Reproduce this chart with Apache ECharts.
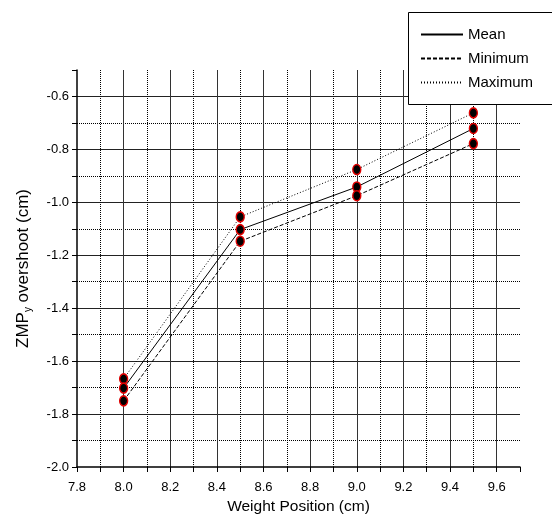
<!DOCTYPE html>
<html>
<head>
<meta charset="utf-8">
<script src="https://cdn.jsdelivr.net/npm/echarts@6/dist/echarts.min.js"></script>
<style>
  html, body { margin: 0; padding: 0; background: #fff; overflow: hidden; }
  #chart { width: 552px; height: 531px; }
</style>
</head>
<body>
<div id="chart"></div>
<script>
// weight positions (cm) and ZMP_y overshoot readings (cm)
var xPos = [8.0, 8.5, 9.0, 9.5];
var meanVals = [-1.702, -1.103, -0.942, -0.721];
var minVals = [-1.750, -1.147, -0.975, -0.778];
var maxVals = [-1.667, -1.055, -0.876, -0.662];
var seriesNames = ['Mean', 'Minimum', 'Maximum'];

var FONT = 'Liberation Sans, Arial, sans-serif';

function pairs(vals) {
    var out = [];
    for (var i = 0; i < xPos.length; i++) {
        out.push([xPos[i], vals[i]]);
    }
    return out;
}

// every reading gets a marker
var dots = [].concat(pairs(maxVals), pairs(meanVals), pairs(minVals));

// only every other tenth gets a label
function evenLabel(v) {
    var k = Math.round(v * 10);
    return k % 2 === 0 ? (k / 10).toFixed(1) : '';
}

var myChart = echarts.init(document.getElementById('chart'));

var frame = { stroke: '#000', lineWidth: 1 };

var option = {
    backgroundColor: '#fff',
    animation: false,
    grid: { left: 77, right: 32, top: 70, bottom: 64 },
    // legend frame is open on the right (runs off the page)
    graphic: [
        { type: 'rect', z: 10, shape: { x: 409, y: 13, width: 143, height: 91 }, style: { fill: '#fff' } },
        { type: 'line', z: 11, shape: { x1: 408.5, y1: 12.5, x2: 552, y2: 12.5 }, style: frame },
        { type: 'line', z: 11, shape: { x1: 408.5, y1: 104.5, x2: 552, y2: 104.5 }, style: frame },
        { type: 'line', z: 11, shape: { x1: 408.5, y1: 12.5, x2: 408.5, y2: 104.5 }, style: frame }
    ],
    legend: {
        orient: 'vertical',
        left: 408,
        top: 12,
        z: 20,
        padding: [15, 10, 14, 12],
        borderWidth: 0,
        backgroundColor: 'transparent',
        itemWidth: 42,
        itemHeight: 14,
        itemGap: 9,
        itemStyle: { opacity: 0 },
        data: seriesNames,
        textStyle: { fontFamily: FONT, fontSize: 15, color: '#000' }
    },
    xAxis: [{
        type: 'value',
        min: 7.8,
        max: 9.7,
        interval: 0.1,
        name: 'Weight Position (cm)',
        nameLocation: 'middle',
        nameGap: 27,
        nameTextStyle: { fontFamily: FONT, fontSize: 15.5, color: '#000' },
        axisLine: { onZero: false, lineStyle: { color: '#000', width: 1.5 } },
        axisTick: { show: true, length: 5, lineStyle: { color: '#000' } },
        axisLabel: {
            fontFamily: FONT, fontSize: 13, color: '#000', margin: 14,
            formatter: evenLabel
        },
        splitLine: {
            show: true, showMinLine: false, showMaxLine: false,
            lineStyle: { color: '#000', type: 'dotted', width: 1 }
        }
    }, {
        type: 'value',
        position: 'top',
        min: 7.8,
        max: 9.7,
        interval: 0.2,
        axisLine: { show: false },
        axisTick: { show: false },
        axisLabel: { show: false },
        splitLine: {
            show: true, showMinLine: false, showMaxLine: false,
            lineStyle: { color: '#333', width: 1 }
        }
    }],
    yAxis: [{
        type: 'value',
        min: -2.0,
        max: -0.5,
        interval: 0.1,
        name: '{a|ZMP}{s|y}{a| overshoot (cm)}',
        nameLocation: 'middle',
        nameRotate: 90,
        nameGap: 44,
        nameTextStyle: {
            rich: {
                a: { fontFamily: FONT, fontSize: 17, color: '#000' },
                s: { fontFamily: FONT, fontSize: 10, color: '#000', verticalAlign: 'bottom', padding: [10, 0, 0, 0] }
            }
        },
        axisLine: { onZero: false, lineStyle: { color: '#000', width: 1.5 } },
        axisTick: { show: true, length: 5, lineStyle: { color: '#000' } },
        axisLabel: {
            fontFamily: FONT, fontSize: 13, color: '#000', margin: 8,
            formatter: evenLabel
        },
        splitLine: {
            show: true, showMinLine: false, showMaxLine: false,
            lineStyle: { color: '#000', type: 'dotted', width: 1 }
        }
    }, {
        type: 'value',
        position: 'right',
        min: -2.0,
        max: -0.5,
        interval: 0.2,
        axisLine: { show: false },
        axisTick: { show: false },
        axisLabel: { show: false },
        splitLine: {
            show: true, showMinLine: false, showMaxLine: false,
            lineStyle: { color: '#222', width: 1 }
        }
    }],
    series: [
        {
            name: 'Mean',
            type: 'line',
            symbol: 'none',
            data: pairs(meanVals),
            lineStyle: { color: '#000', width: 1, type: 'solid' },
            itemStyle: { color: '#000' },
            z: 3
        },
        {
            name: 'Minimum',
            type: 'line',
            symbol: 'none',
            data: pairs(minVals),
            lineStyle: { color: '#000', width: 1, type: [4, 2] },
            itemStyle: { color: '#000' },
            z: 3
        },
        {
            name: 'Maximum',
            type: 'line',
            symbol: 'none',
            data: pairs(maxVals),
            lineStyle: { color: '#000', width: 1, type: [1, 2] },
            itemStyle: { color: '#000' },
            z: 3
        },
        {
            name: 'points',
            type: 'scatter',
            symbol: 'circle',
            symbolSize: [8, 10],
            data: dots,
            itemStyle: { color: '#000', borderColor: '#e00000', borderWidth: 1.5, opacity: 1 },
            z: 4
        }
    ]
};
myChart.setOption(option);
</script>
</body>
</html>
